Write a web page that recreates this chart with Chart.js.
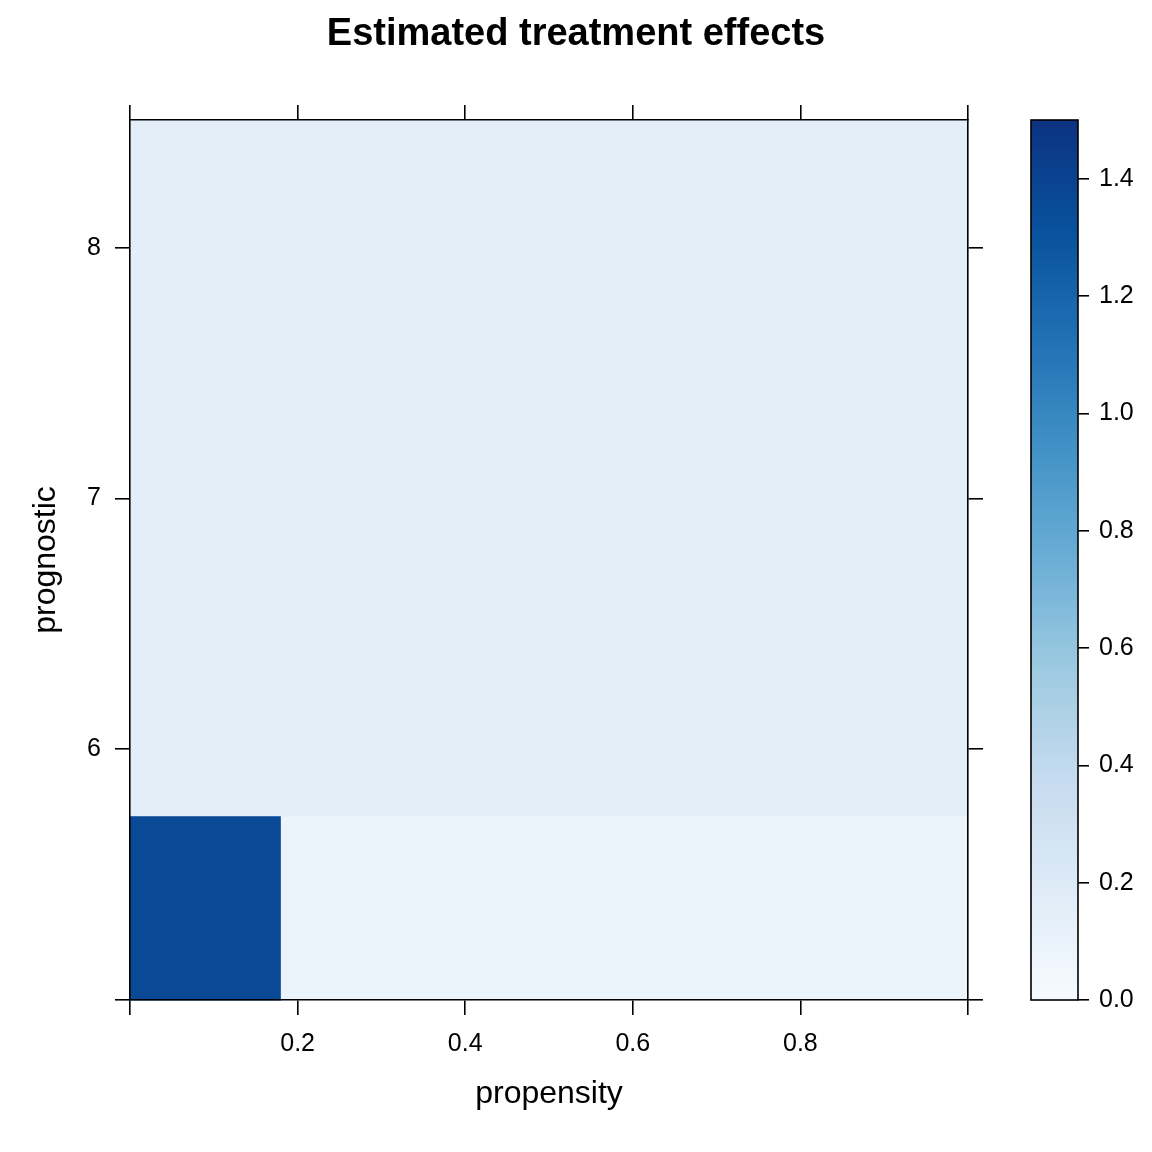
<!DOCTYPE html>
<html>
<head>
<meta charset="utf-8">
<script src="https://cdn.jsdelivr.net/npm/chart.js@4/dist/chart.umd.min.js"></script>
<style>
  html, body { margin: 0; padding: 0; background: #fff; }
  #wrap { width: 1152px; height: 1152px; }
</style>
</head>
<body>
<div id="wrap"><canvas id="effectChart"></canvas></div>
<script>
// cell edges along each axis
const propensityEdges = [0.0, 0.18, 1.0];
const prognosticEdges = [5.0, 5.735, 8.51];
// estimated effect per cell, one array per prognostic row (bottom to top)
const effectRowLow = [1.36, 0.09];
const effectRowHigh = [0.15, 0.15];

const xTicks = [0.0, 0.2, 0.4, 0.6, 0.8, 1.0];
const xLabels = ["", "0.2", "0.4", "0.6", "0.8", ""];
const yTicks = [5, 6, 7, 8];
const yLabels = ["", "6", "7", "8"];
const keyTicks = [0.0, 0.2, 0.4, 0.6, 0.8, 1.0, 1.2, 1.4];
const keyRange = [0.0, 1.5];

// Blues palette used for the colour key
const blues = ["#F7FBFF", "#DEEBF7", "#C6DBEF", "#9ECAE1", "#6BAED6",
               "#4292C6", "#2171B5", "#08519C", "#0C3281"];

function hexRgb(h) {
  return [1, 3, 5].map((i) => parseInt(h.slice(i, i + 2), 16));
}

function effectColor(v) {
  let t = (v - keyRange[0]) / (keyRange[1] - keyRange[0]);
  t = Math.max(0, Math.min(1, t)) * (blues.length - 1);
  const i = Math.min(Math.floor(t), blues.length - 2);
  const f = t - i;
  const a = hexRgb(blues[i]);
  const b = hexRgb(blues[i + 1]);
  const c = a.map((x, k) => Math.round(x + (b[k] - x) * f));
  return `rgb(${c[0]}, ${c[1]}, ${c[2]})`;
}

const effectRows = [effectRowLow, effectRowHigh];

// paints the level cells and the colour key under the axes
const levelPlot = {
  id: "levelPlot",
  beforeDraw(chart) {
    const { ctx, scales } = chart;
    const x = scales.x;
    const y = scales.y;
    ctx.save();
    effectRows.forEach((row, r) => {
      row.forEach((val, c) => {
        const x0 = x.getPixelForValue(propensityEdges[c]);
        const x1 = x.getPixelForValue(propensityEdges[c + 1]);
        const y0 = y.getPixelForValue(prognosticEdges[r]);
        const y1 = y.getPixelForValue(prognosticEdges[r + 1]);
        ctx.fillStyle = effectColor(val);
        ctx.fillRect(x0, y1, x1 - x0 + 0.5, y0 - y1 + 0.5);
      });
    });

    const key = scales.key;
    const kTop = key.getPixelForValue(keyRange[1]);
    const kBot = key.getPixelForValue(keyRange[0]);
    const kRight = key.left;
    const kLeft = kRight - 47;
    const grad = ctx.createLinearGradient(0, kBot, 0, kTop);
    blues.forEach((col, i) => grad.addColorStop(i / (blues.length - 1), col));
    ctx.fillStyle = grad;
    ctx.fillRect(kLeft, kTop, kRight - kLeft, kBot - kTop);
    ctx.strokeStyle = "#000";
    ctx.lineWidth = 1.6;
    ctx.strokeRect(kLeft, kTop, kRight - kLeft, kBot - kTop);
    ctx.restore();
  },
};

const fam = "Liberation Sans, Arial, sans-serif";
const tickFont = { family: fam, size: 25 };
const axisGrid = {
  drawOnChartArea: false,
  drawTicks: true,
  tickLength: 15,
  color: "#000",
  lineWidth: 1.6,
};
const axisBorder = { display: true, color: "#000", width: 1.6 };

function fixedTicks(values) {
  return (scale) => {
    scale.ticks = values.map((v) => ({ value: v }));
  };
}

new Chart(document.getElementById("effectChart"), {
  type: "scatter",
  data: { datasets: [] },
  options: {
    responsive: true,
    maintainAspectRatio: false,
    animation: false,
    layout: { padding: 0 },
    plugins: {
      legend: { display: false },
      tooltip: { enabled: false },
      title: {
        display: true,
        text: "Estimated treatment effects",
        color: "#000",
        font: { family: fam, size: 38, weight: "bold" },
        padding: { top: 12, bottom: 0 },
      },
    },
    scales: {
      x: {
        type: "linear",
        position: "bottom",
        min: 0,
        max: 1,
        afterBuildTicks: fixedTicks(xTicks),
        afterFit: (s) => { s.height = 152; },
        ticks: {
          color: "#000",
          font: tickFont,
          padding: 14,
          maxRotation: 0,
          autoSkip: false,
          callback: (v, i) => xLabels[i],
        },
        grid: axisGrid,
        border: axisBorder,
        title: {
          display: true,
          text: "propensity",
          color: "#000",
          font: { family: fam, size: 32 },
          padding: { top: 0, bottom: 39 },
        },
      },
      xTop: {
        type: "linear",
        position: "top",
        min: 0,
        max: 1,
        afterBuildTicks: fixedTicks(xTicks),
        afterFit: (s) => { s.height = 62.4; },
        ticks: { display: true, callback: () => "" },
        grid: axisGrid,
        border: axisBorder,
      },
      y: {
        type: "linear",
        position: "left",
        min: 5.0,
        max: 8.51,
        afterBuildTicks: fixedTicks(yTicks),
        afterFit: (s) => { s.width = 130; },
        ticks: {
          color: "#000",
          font: tickFont,
          padding: 14,
          autoSkip: false,
          callback: (v, i) => yLabels[i],
        },
        grid: axisGrid,
        border: axisBorder,
        title: {
          display: true,
          text: "prognostic",
          color: "#000",
          font: { family: fam, size: 32 },
          padding: { top: 27, bottom: 0 },
        },
      },
      yRight: {
        type: "linear",
        position: "right",
        weight: 0,
        min: 5.0,
        max: 8.51,
        afterBuildTicks: fixedTicks(yTicks),
        afterFit: (s) => { s.width = 110; },
        ticks: { display: true, callback: () => "" },
        grid: axisGrid,
        border: axisBorder,
      },
      key: {
        type: "linear",
        position: "right",
        weight: 1,
        min: keyRange[0],
        max: keyRange[1],
        afterBuildTicks: fixedTicks(keyTicks),
        afterFit: (s) => { s.width = 74; },
        ticks: {
          color: "#000",
          font: tickFont,
          padding: 10,
          autoSkip: false,
          callback: (v) => v.toFixed(1),
        },
        grid: { drawOnChartArea: false, drawTicks: true, tickLength: 11, color: "#000", lineWidth: 1.6 },
        border: { display: false },
      },
    },
  },
  plugins: [levelPlot],
});
</script>
</body>
</html>
